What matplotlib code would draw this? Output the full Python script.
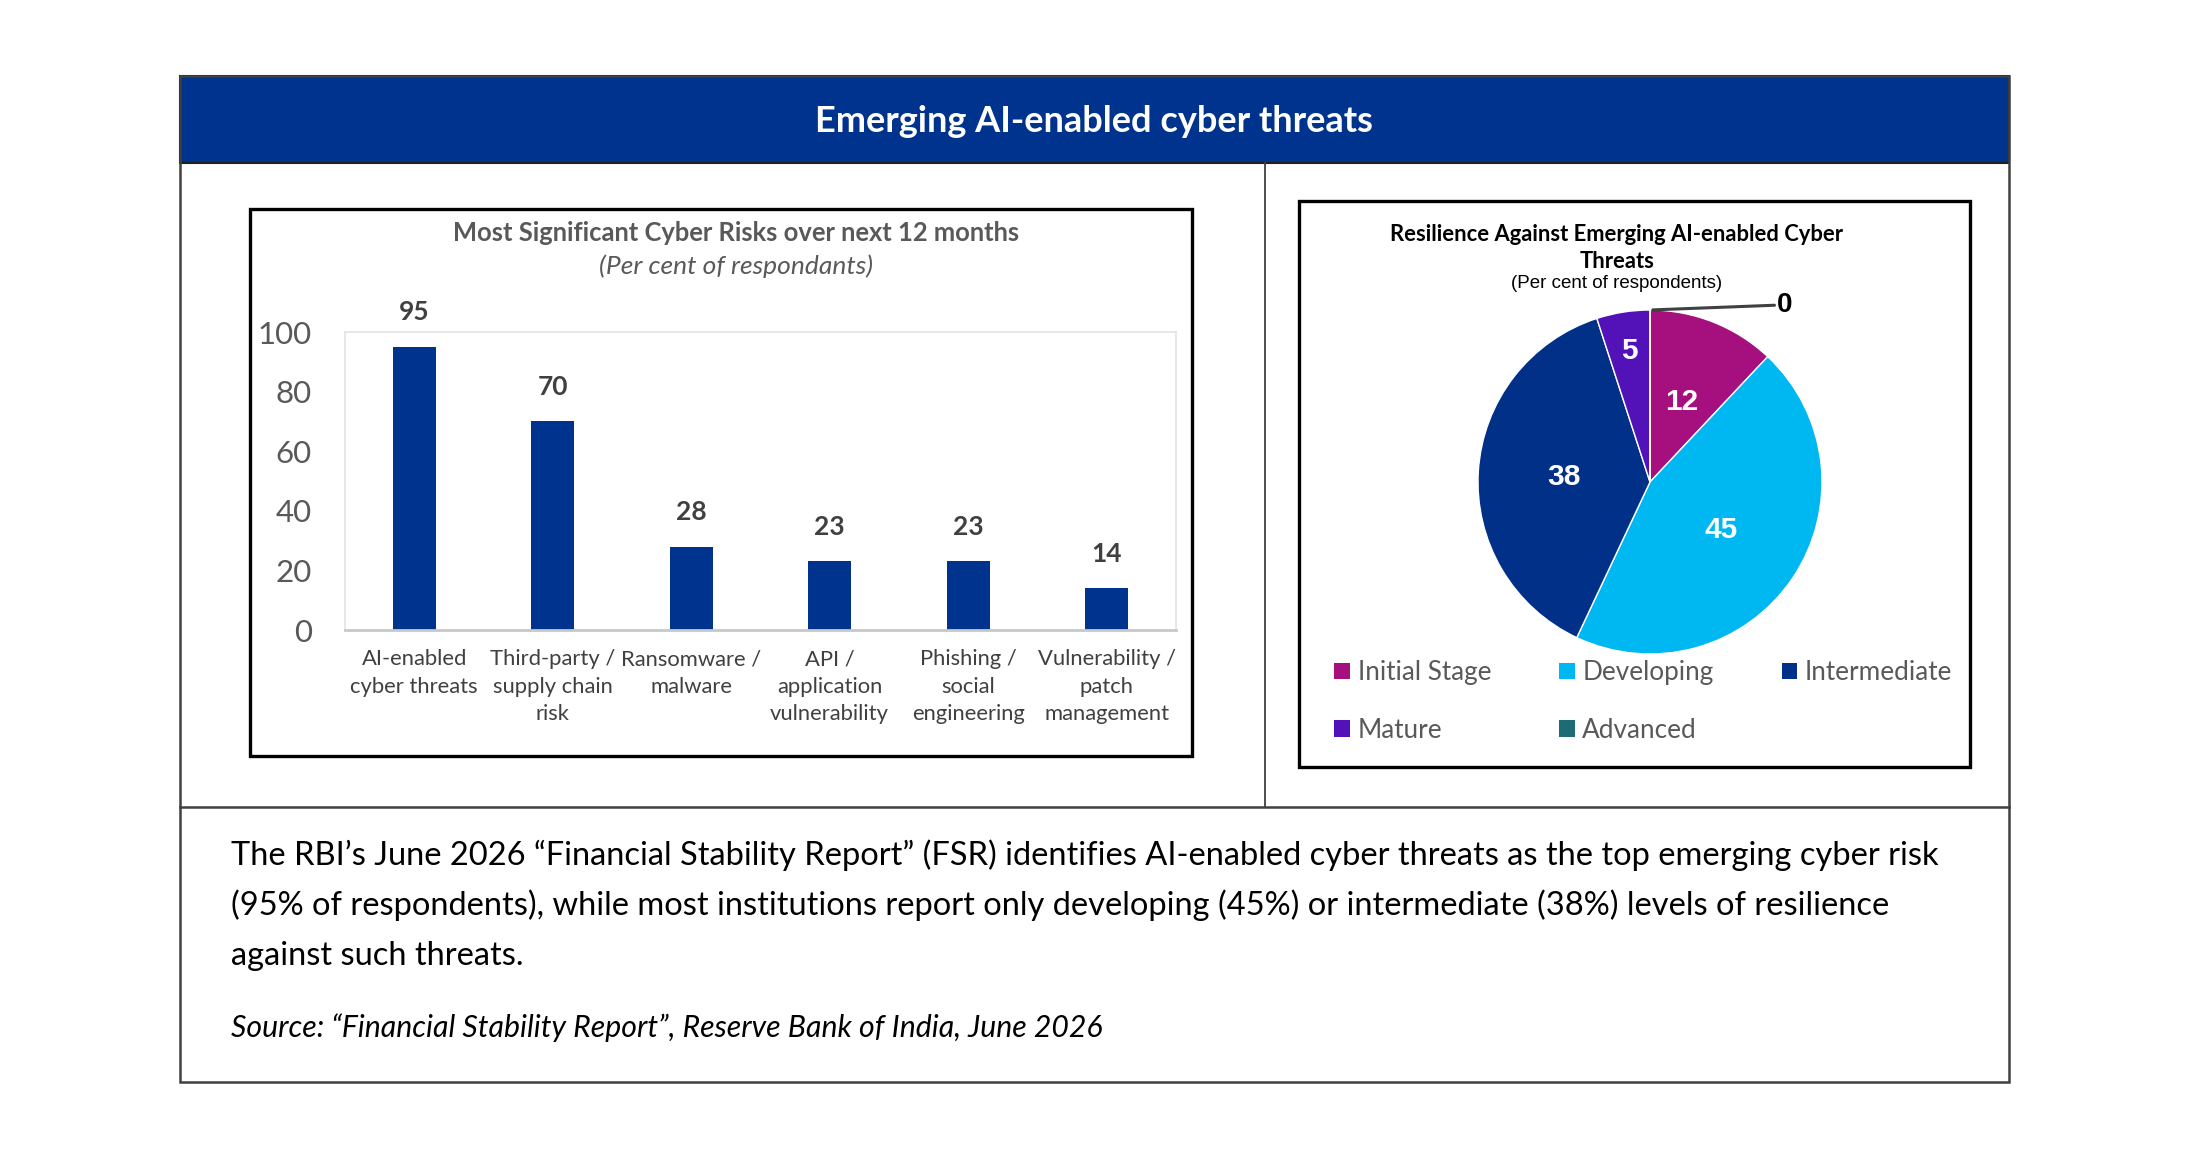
import numpy as np
import matplotlib as mpl
import matplotlib.pyplot as plt

W, H = 2200, 1160

BLUE = "#00338D"
GRAY_TXT = "#595959"
DARK_TXT = "#404040"

RISK_LABELS = [
    "AI-enabled\ncyber threats",
    "Third-party /\nsupply chain\nrisk",
    "Ransomware /\nmalware",
    "API /\napplication\nvulnerability",
    "Phishing /\nsocial\nengineering",
    "Vulnerability /\npatch\nmanagement",
]
RISK_VALUES = [95, 70, 28, 23, 23, 14]
Y_TICKS = [0, 20, 40, 60, 80, 100]

STAGES = ["Initial Stage", "Developing", "Intermediate", "Mature", "Advanced"]
STAGE_VALUES = [12, 45, 38, 5, 0]
STAGE_COLORS = ["#A50F7E", "#00B8F1", "#003087", "#5311B8", "#1F6B75"]

HEADER = "Emerging AI-enabled cyber threats"
BAR_TITLE = "Most Significant Cyber Risks over next 12 months"
BAR_SUB = "(Per cent of respondants)"
PIE_TITLE = "Resilience Against Emerging AI-enabled Cyber\nThreats"
PIE_SUB = "(Per cent of respondents)"
BODY = [
    "The RBI\u2019s June 2026 \u201cFinancial Stability Report\u201d (FSR) identifies AI-enabled cyber threats as the top emerging cyber risk",
    "(95% of respondents), while most institutions report only developing (45%) or intermediate (38%) levels of resilience",
    "against such threats.",
]
SOURCE = "Source: \u201cFinancial Stability Report\u201d, Reserve Bank of India, June 2026"


def px_rect(x0, y0, x1, y1):
    return [x0 / W, 1 - y1 / H, (x1 - x0) / W, (y1 - y0) / H]


def main():
    mpl.rcParams["font.family"] = ["Lato", "DejaVu Sans"]

    fig = plt.figure(figsize=(W / 100, H / 100), dpi=100)
    fig.patch.set_facecolor("white")

    bg = fig.add_axes([0, 0, 1, 1])
    bg.set_xlim(0, W)
    bg.set_ylim(H, 0)
    bg.axis("off")

    # outer frame, header band, dividers
    bg.add_patch(plt.Rectangle((180, 76), 1829, 87, facecolor=BLUE, edgecolor="#202020", lw=1.5))
    bg.add_patch(plt.Rectangle((180, 76), 1829, 1006, facecolor="none", edgecolor="#404040", lw=1.8))
    bg.plot([1265, 1265], [163, 807], color="#404040", lw=1.3)
    bg.plot([180, 2009], [807, 807], color="#404040", lw=1.8)
    bg.text(1094, 122, HEADER, color="white", fontsize=26, fontweight="bold", ha="center", va="center")

    # chart boxes
    bg.add_patch(plt.Rectangle((250, 209), 942, 547, facecolor="none", edgecolor="black", lw=2.4))
    bg.add_patch(plt.Rectangle((1299, 201), 671, 566, facecolor="none", edgecolor="black", lw=2.4))

    bg.text(736, 233, BAR_TITLE, color=GRAY_TXT, fontsize=18.4, fontweight="bold", ha="center", va="center")
    bg.text(736, 266, BAR_SUB, color=GRAY_TXT, fontsize=19, style="italic", ha="center", va="center")

    bg.text(1617, 248, PIE_TITLE, color="black", fontsize=15.8, fontweight="bold", ha="center", va="center",
            linespacing=1.4)
    bg.text(1617, 284, PIE_SUB, color="black", fontsize=13.5, family="Liberation Sans", ha="center", va="center")

    # body text
    for i, line in enumerate(BODY):
        bg.text(231, 855 + i * 50.5, line, color="black", fontsize=23.5, ha="left", va="center")
    bg.text(231, 1028, SOURCE, color="black", fontsize=21.8, style="italic", ha="left", va="center")

    # bar chart
    ax = fig.add_axes(px_rect(345, 332, 1176, 630))
    x = np.arange(len(RISK_VALUES))
    bars = ax.bar(x, RISK_VALUES, width=0.31, color=BLUE, zorder=2)
    ax.set_xlim(-0.5, len(RISK_VALUES) - 0.5)
    ax.set_ylim(0, 100)
    ax.set_yticks(Y_TICKS)
    ax.set_xticks(x, RISK_LABELS)
    ax.tick_params(axis="both", length=0)
    ax.tick_params(axis="y", labelsize=22.5, labelcolor=GRAY_TXT, pad=24)
    ax.tick_params(axis="x", labelsize=15.8, labelcolor=DARK_TXT, pad=14)
    for lab in ax.get_xticklabels():
        lab.set_linespacing(1.45)
    for side in ("top", "right", "left"):
        ax.spines[side].set_color("#E3E3E3")
        ax.spines[side].set_linewidth(1.2)
    ax.spines["bottom"].set_color("#C8C8C8")
    ax.spines["bottom"].set_linewidth(2)
    for b, v in zip(bars, RISK_VALUES):
        ax.annotate(f"{v}", (b.get_x() + b.get_width() / 2, v), xytext=(0, 25), textcoords="offset points",
                    ha="center", va="center", fontsize=19, fontweight="bold", color=DARK_TXT)

    # pie chart
    pax = fig.add_axes(px_rect(1478, 310, 1822, 654))
    wedges, _ = pax.pie(STAGE_VALUES, colors=STAGE_COLORS, startangle=90, counterclock=False, radius=1,
                        wedgeprops={"edgecolor": "white", "linewidth": 1.0})
    pax.set_xlim(-1, 1)
    pax.set_ylim(-1, 1)
    for w, v in zip(wedges, STAGE_VALUES):
        mid = np.deg2rad((w.theta1 + w.theta2) / 2)
        if v == 0:
            pax.annotate(f"{v}", (np.cos(mid), np.sin(mid)), xytext=(0.74, 1.03), ha="left", va="center",
                         fontsize=20, fontweight="bold", color="black", family="Liberation Sans",
                         arrowprops={"arrowstyle": "-", "color": "#404040", "lw": 2.2, "shrinkA": 0, "shrinkB": 2},
                         annotation_clip=False)
            continue
        d = 0.5 if v >= 10 else 0.77
        pax.text(d * np.cos(mid), d * np.sin(mid), f"{v}", ha="center", va="center", fontsize=21.5,
                 fontweight="bold", color="white", family="Liberation Sans")

    order = [0, 3, 1, 4, 2]
    leg = pax.legend([wedges[i] for i in order], [STAGES[i] for i in order], ncol=3, frameon=False,
                     loc="upper left", bbox_to_anchor=(1334 / W, 1 - 660 / H), bbox_transform=fig.transFigure,
                     fontsize=18.8, handlelength=0.6, handleheight=0.6, handletextpad=0.3,
                     columnspacing=2.6, labelspacing=1.25, borderaxespad=0, borderpad=0)
    for t in leg.get_texts():
        t.set_color(GRAY_TXT)
    for h in leg.legend_handles:
        h.set_edgecolor("none")

    fig.savefig("out.png", dpi=100, facecolor="white")
    plt.close(fig)


if __name__ == "__main__":
    main()
